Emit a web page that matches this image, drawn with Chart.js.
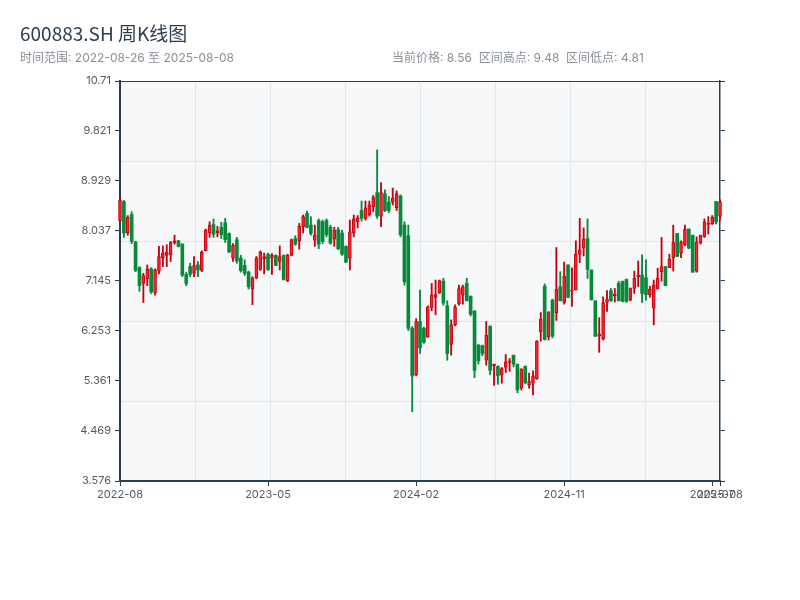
<!DOCTYPE html>
<html><head><meta charset="utf-8">
<script src="https://cdn.jsdelivr.net/npm/chart.js@4.4.1/dist/chart.umd.min.js"></script>
<style>
html,body{margin:0;padding:0;background:#fff;}
#wrap{position:relative;width:800px;height:600px;overflow:hidden;}
#c{position:absolute;left:0;top:0;}
.t{position:absolute;white-space:pre;line-height:1;}
#title{left:20px;top:23px;font-size:19px;color:#2c3e50;font-family:"Noto Sans CJK SC","Noto Sans",sans-serif;}
#sub{left:20px;top:52px;font-size:12px;color:#8a9099;font-family:Inter,"Noto Sans CJK SC",sans-serif;}
#info{left:392px;top:52px;font-size:12px;color:#8a9099;font-family:Inter,"Noto Sans CJK SC",sans-serif;}
</style></head>
<body><div id="wrap"><canvas id="c" width="800" height="600"></canvas>
<div class="t" id="title">600883.SH 周K线图</div>
<div class="t" id="sub">时间范围: 2022-08-26 至 2025-08-08</div>
<div class="t" id="info">当前价格: 8.56  区间高点: 9.48  区间低点: 4.81</div>
</div>
<script>
const dates = [
"2022-08-26","2022-09-02","2022-09-09","2022-09-16","2022-09-23","2022-09-30","2022-10-07","2022-10-14","2022-10-21","2022-10-28",
"2022-11-04","2022-11-11","2022-11-18","2022-11-25","2022-12-02","2022-12-09","2022-12-16","2022-12-23","2022-12-30",
"2023-01-06","2023-01-13","2023-01-20","2023-01-27","2023-02-03","2023-02-10","2023-02-17","2023-02-24","2023-03-03","2023-03-10",
"2023-03-17","2023-03-24","2023-03-31","2023-04-07","2023-04-14","2023-04-21","2023-04-28","2023-05-05","2023-05-12","2023-05-19",
"2023-05-26","2023-06-02","2023-06-09","2023-06-16","2023-06-23","2023-06-30","2023-07-07","2023-07-14","2023-07-21","2023-07-28",
"2023-08-04","2023-08-11","2023-08-18","2023-08-25","2023-09-01","2023-09-08","2023-09-15","2023-09-22","2023-09-29","2023-10-06",
"2023-10-13","2023-10-20","2023-10-27","2023-11-03","2023-11-10","2023-11-17","2023-11-24","2023-12-01","2023-12-08","2023-12-15",
"2023-12-22","2023-12-29",
"2024-01-05","2024-01-12","2024-01-19","2024-01-26","2024-02-02","2024-02-09","2024-02-16","2024-02-23","2024-03-01","2024-03-08",
"2024-03-15","2024-03-22","2024-03-29","2024-04-05","2024-04-12","2024-04-19","2024-04-26","2024-05-03","2024-05-10","2024-05-17",
"2024-05-24","2024-05-31","2024-06-07","2024-06-14","2024-06-21","2024-06-28","2024-07-05","2024-07-12","2024-07-19","2024-07-26",
"2024-08-02","2024-08-09","2024-08-16","2024-08-23","2024-08-30","2024-09-06","2024-09-13","2024-09-20","2024-09-27","2024-10-04",
"2024-10-11","2024-10-18","2024-10-25","2024-11-01","2024-11-08","2024-11-15","2024-11-22","2024-11-29","2024-12-06","2024-12-13",
"2024-12-20","2024-12-27",
"2025-01-03","2025-01-10","2025-01-17","2025-01-24","2025-01-31","2025-02-07","2025-02-14","2025-02-21","2025-02-28","2025-03-07",
"2025-03-14","2025-03-21","2025-03-28","2025-04-04","2025-04-11","2025-04-18","2025-04-25","2025-05-02","2025-05-09","2025-05-16",
"2025-05-23","2025-05-30","2025-06-06","2025-06-13","2025-06-20","2025-06-27","2025-07-04","2025-07-11","2025-07-18","2025-07-25",
"2025-08-01","2025-08-08"
];
const opens = [
8.22,8.56,8.00,8.33,7.84,7.38,7.10,7.18,7.36,6.93,
7.32,7.56,7.60,7.61,7.82,7.86,7.80,7.26,7.40,7.28,
7.43,7.33,7.68,8.00,8.15,8.00,8.10,8.18,7.99,7.55,
7.88,7.55,7.42,7.30,7.00,7.20,7.35,7.54,7.62,7.55,
7.60,7.49,7.60,7.15,7.60,7.90,7.86,8.11,8.35,8.14,
7.87,8.22,8.20,8.22,8.10,7.89,8.06,8.00,7.76,7.55,
8.00,8.20,8.40,8.26,8.32,8.47,8.72,8.30,8.70,8.55,
8.55,8.45,8.66,8.14,7.95,6.30,5.47,6.42,6.30,6.14,
6.67,6.85,6.93,7.14,6.70,6.01,6.36,6.74,6.89,7.10,
6.87,6.61,6.00,5.99,5.73,6.34,5.63,5.62,5.47,5.60,
5.69,5.82,5.66,5.24,5.62,5.29,5.32,5.40,6.24,7.05,
6.15,6.80,6.58,7.04,6.76,7.43,6.96,6.99,7.62,7.73,
7.90,7.34,6.79,6.16,6.11,6.76,6.97,6.88,7.10,7.14,
7.17,6.80,7.01,7.22,7.25,7.20,6.90,6.66,7.00,7.31,
7.40,7.38,7.56,7.99,7.64,7.79,8.07,7.96,7.32,7.82,
7.93,8.15,8.16,8.56,8.30
];
const highs = [
8.62,8.58,8.31,8.38,7.85,7.40,7.28,7.43,7.38,7.36,
7.76,7.77,7.79,7.85,7.96,7.87,7.81,7.30,7.46,7.58,
7.49,7.68,8.07,8.20,8.25,8.12,8.19,8.26,8.00,7.81,
7.92,7.60,7.52,7.32,7.22,7.58,7.68,7.64,7.64,7.63,
7.61,7.77,7.61,7.62,7.89,7.95,8.17,8.32,8.39,8.29,
8.14,8.25,8.23,8.25,8.14,8.10,8.10,8.05,7.77,8.23,
8.32,8.31,8.57,8.57,8.57,8.67,9.48,8.90,8.77,8.65,
8.80,8.75,8.68,8.20,8.14,6.33,6.47,6.98,6.32,6.70,
7.10,7.16,7.16,7.19,6.79,6.45,6.72,7.07,7.07,7.19,
6.88,6.61,6.01,6.00,6.42,6.34,5.66,5.63,5.60,5.83,
5.76,5.82,5.66,5.58,5.63,5.50,5.54,6.08,6.58,7.09,
6.60,6.82,7.74,7.31,7.48,7.43,7.38,7.86,8.26,8.09,
8.25,7.34,6.79,6.49,6.86,6.97,7.01,7.01,7.14,7.14,
7.18,7.02,7.32,7.50,7.61,7.52,7.05,7.16,7.37,7.92,
7.40,7.62,8.14,7.99,7.86,8.14,8.07,7.96,7.93,7.96,
8.25,8.29,8.31,8.56,8.59
];
const lows = [
8.20,7.92,7.96,7.81,7.31,6.96,6.76,7.06,6.92,6.89,
7.27,7.40,7.40,7.49,7.80,7.75,7.22,7.06,7.22,7.22,
7.22,7.31,7.68,7.92,7.92,7.93,7.90,7.83,7.65,7.49,
7.46,7.30,7.24,7.00,6.72,7.18,7.33,7.27,7.33,7.26,
7.42,7.34,7.16,7.13,7.59,7.78,7.71,8.00,8.09,7.96,
7.76,7.72,7.81,7.93,7.80,7.76,7.70,7.60,7.47,7.34,
7.93,8.09,8.21,8.23,8.30,8.38,8.26,8.11,8.38,8.36,
8.50,8.40,7.93,7.07,6.26,4.81,5.45,5.85,6.03,6.14,
6.61,6.54,6.92,6.71,5.73,5.82,6.34,6.71,6.73,6.79,
6.52,5.42,5.66,5.81,5.64,5.47,5.28,5.30,5.32,5.51,
5.53,5.61,5.15,5.20,5.31,5.23,5.11,5.39,6.07,6.09,
6.09,6.13,6.44,6.79,6.73,6.85,6.69,6.98,7.47,7.59,
7.19,6.80,6.15,5.87,6.09,6.60,6.78,6.77,6.79,6.77,
6.76,6.79,6.92,7.04,6.76,6.80,6.85,6.36,7.00,7.14,
7.06,7.38,7.32,7.58,7.56,7.77,7.72,7.30,7.30,7.80,
7.92,7.98,8.15,8.16,8.23
];
const closes = [
8.58,8.00,8.28,7.85,7.33,7.06,7.24,7.36,6.95,7.34,
7.58,7.64,7.66,7.83,7.86,7.76,7.25,7.10,7.26,7.42,
7.34,7.66,8.05,8.14,7.98,8.04,7.97,7.88,7.66,7.78,
7.50,7.33,7.28,7.04,7.20,7.55,7.66,7.58,7.35,7.60,
7.42,7.58,7.17,7.60,7.88,7.80,8.12,8.29,8.10,7.99,
7.96,7.80,7.85,7.97,7.82,8.05,7.72,7.62,7.48,8.02,
8.25,8.27,8.26,8.45,8.50,8.63,8.30,8.72,8.40,8.40,
8.62,8.70,7.97,7.13,6.30,5.45,6.42,5.95,6.05,6.68,
6.89,6.90,7.15,6.75,5.85,6.36,6.68,7.01,7.04,6.79,
6.55,5.55,5.72,5.85,6.18,5.55,5.66,5.45,5.58,5.70,
5.72,5.66,5.20,5.57,5.33,5.35,5.45,6.07,6.46,6.10,
6.58,6.16,7.00,6.79,7.23,6.85,6.98,7.62,7.70,7.89,
7.35,6.81,6.16,6.19,6.76,6.82,6.79,6.91,6.79,6.78,
6.78,7.01,7.19,7.25,6.92,6.90,7.00,7.07,7.19,7.40,
7.06,7.53,7.83,7.58,7.84,8.07,7.73,7.30,7.84,7.96,
8.20,8.17,8.28,8.20,8.56
];
const yTickValues = [3.576,4.469,5.361,6.253,7.145,8.037,8.929,9.821,10.71];
const xTickIndex = [0,38,76,114,152,154];

const UP_FILL = '#ec2a2f', UP_LINE = '#c8000e', DOWN = '#07893a';
const AXIS = '#2c3e50', GRID = '#e2e5ea', TICK_TXT = '#555a60';
const TICK_FONT = {family: 'Inter, "Noto Sans CJK SC", sans-serif', size: 11};
const isUp = i => closes[i] >= opens[i];

const wickData = dates.map((d, i) => ({x: i, y: [lows[i], highs[i]]}));
const bodyData = dates.map((d, i) => ({x: i, y: [opens[i], closes[i]]}));

const bgPlugin = {
  id: 'areaBg',
  beforeDraw(chart) {
    const {ctx, chartArea: a} = chart;
    ctx.save();
    ctx.fillStyle = '#f7f8fa';
    ctx.fillRect(a.left, a.top, a.right - a.left, a.bottom - a.top);
    ctx.restore();
  }
};

new Chart(document.getElementById('c'), {
  type: 'bar',
  data: {
    datasets: [
      {
        label: 'body', data: bodyData, order: 0, grouped: false, clip: false,
        barThickness: 3, minBarLength: 1, borderSkipped: false,
        backgroundColor: c => isUp(c.dataIndex) ? UP_FILL : DOWN,
        borderColor: c => isUp(c.dataIndex) ? UP_LINE : DOWN,
        borderWidth: c => isUp(c.dataIndex) ? 1 : 0,
        xAxisID: 'x', yAxisID: 'y'
      },
      {
        label: 'wick', data: wickData, order: 1, grouped: false, clip: false,
        barThickness: 1.2, borderWidth: 0,
        backgroundColor: c => isUp(c.dataIndex) ? UP_LINE : DOWN,
        xAxisID: 'x', yAxisID: 'y'
      }
    ]
  },
  options: {
    responsive: false,
    animation: false,
    layout: {padding: 0},
    plugins: {legend: {display: false}, tooltip: {enabled: false}, title: {display: false}},
    scales: {
      xg: {
        type: 'linear', position: 'top', min: 0, max: 8, offset: false,
        ticks: {display: false, stepSize: 1},
        grid: {offset: false, color: c => (c.index === 0 || c.index === 8) ? 'rgba(0,0,0,0)' : GRID, drawTicks: false, lineWidth: 1},
        border: {display: true, color: AXIS, width: 1},
        afterFit: s => { s.height = 81; }
      },
      yg: {
        type: 'linear', position: 'right', min: 0, max: 5, offset: false,
        ticks: {display: false, stepSize: 1},
        grid: {offset: false, color: c => (c.index === 0 || c.index === 5) ? 'rgba(0,0,0,0)' : GRID, drawTicks: false, lineWidth: 1},
        border: {display: false},
        afterFit: s => { s.width = 0; }
      },
      x: {
        type: 'linear', position: 'bottom', min: 0, max: dates.length - 1, z: 1, offset: false,
        afterBuildTicks: s => { s.ticks = xTickIndex.map(v => ({value: v})); },
        afterFit: s => { s.height = 119; },
        ticks: {autoSkip: false, maxRotation: 0, minRotation: 0, padding: 2, color: TICK_TXT, font: TICK_FONT,
          callback: v => dates[v] ? dates[v].slice(0, 7) : ''},
        grid: {offset: false, drawOnChartArea: false, drawTicks: true, tickLength: 5, color: AXIS, tickWidth: 1},
        border: {display: true, color: AXIS, width: 2}
      },
      y: {
        type: 'linear', position: 'left', min: 3.576, max: 10.71, z: 1,
        afterBuildTicks: s => { s.ticks = yTickValues.map(v => ({value: v})); },
        afterFit: s => { s.width = 120; },
        ticks: {color: TICK_TXT, font: TICK_FONT, padding: 4, callback: v => String(v)},
        grid: {drawOnChartArea: false, drawTicks: true, tickLength: 5, color: AXIS, tickWidth: 1},
        border: {display: true, color: AXIS, width: 2}
      },
      yr: {
        type: 'linear', position: 'right', min: 3.576, max: 10.71, z: 1,
        afterBuildTicks: s => { s.ticks = yTickValues.map(v => ({value: v})); },
        afterFit: s => { s.width = 80; },
        ticks: {color: TICK_TXT, font: TICK_FONT, padding: 0, callback: () => ''},
        grid: {drawOnChartArea: false, drawTicks: true, tickLength: 5, color: AXIS, tickWidth: 1},
        border: {display: true, color: AXIS, width: 1.5}
      }
    }
  },
  plugins: [bgPlugin]
});
</script>
</body></html>
